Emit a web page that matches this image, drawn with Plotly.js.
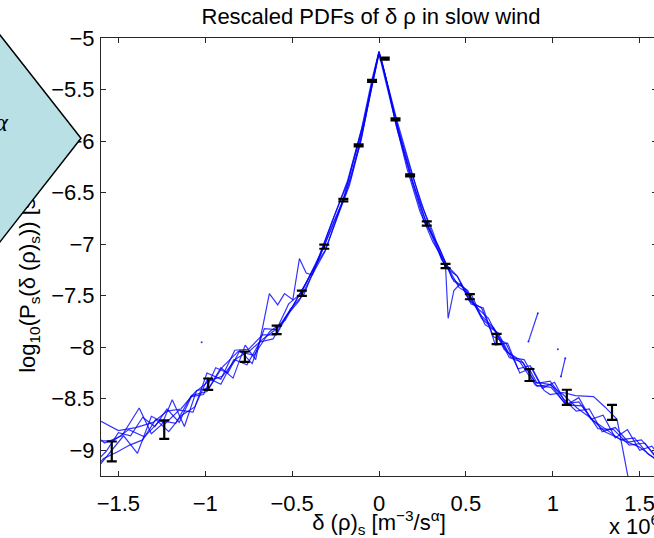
<!DOCTYPE html>
<html>
<head>
<meta charset="utf-8">
<script src="https://cdn.plot.ly/plotly-3.0.1.min.js"></script>
<style>
html,body{margin:0;padding:0;overflow:hidden;background:#fff;width:654px;height:538px;}
#chart{position:absolute;left:0;top:0;width:700px;height:538px;}
#callout{position:absolute;left:0;top:0;pointer-events:none;}
</style>
</head>
<body>
<div id="chart"></div>
<svg id="callout" width="120" height="300" xmlns="http://www.w3.org/2000/svg">
  <polygon points="-40,-16 81,138.3 -40,293" fill="#b9e0e4" stroke="#000" stroke-width="1.5"/>
  <text x="8" y="131" text-anchor="end" font-family="Liberation Serif, DejaVu Serif, serif" font-style="italic" font-size="26" fill="#000">α</text>
</svg>
<script>
// ---- data ----
const titleText = 'Rescaled PDFs of δ ρ in slow wind';
const xTickVals = [-1.5, -1, -0.5, 0, 0.5, 1, 1.5];
const yTickVals = [-9, -8.5, -8, -7.5, -7, -6.5, -6, -5.5, -5];

const x1 = [-1.60,-1.50,-1.40,-1.30,-1.22,-1.14,-1.06,-0.98,-0.90,-0.82,-0.74,-0.66,-0.58,-0.50,-0.42,-0.34,-0.26,-0.18,-0.10,-0.04,0.00,0.04,0.10,0.18,0.26,0.34,0.42,0.50,0.58,0.66,0.74,0.82,0.90,0.98,1.06,1.14,1.22,1.30,1.40,1.50,1.60,1.66];
const y1 = [-8.72,-8.81,-8.78,-8.73,-8.62,-8.60,-8.44,-8.33,-8.28,-8.11,-8.03,-7.91,-7.81,-7.61,-7.38,-7.10,-6.74,-6.38,-5.88,-5.40,-5.13,-5.39,-5.86,-6.34,-6.78,-7.01,-7.33,-7.44,-7.68,-7.81,-8.05,-8.13,-8.34,-8.36,-8.46,-8.59,-8.69,-8.82,-8.90,-8.97,-9.10,-9.14];

const x2 = [-1.64,-1.57,-1.50,-1.43,-1.36,-1.29,-1.22,-1.15,-1.08,-1.01,-0.94,-0.87,-0.80,-0.73,-0.66,-0.59,-0.52,-0.45,-0.38,-0.31,-0.24,-0.17,-0.10,-0.05,0.00,0.05,0.10,0.17,0.24,0.31,0.38,0.45,0.52,0.59,0.66,0.73,0.80,0.87,0.94,1.01,1.08,1.15,1.22,1.29,1.36,1.43,1.50,1.57,1.64];
const y2 = [-9.13,-9.01,-8.83,-8.86,-8.68,-8.77,-8.60,-8.73,-8.48,-8.46,-8.20,-8.25,-8.03,-8.16,-7.82,-7.83,-7.58,-7.48,-7.25,-7.06,-6.74,-6.43,-5.97,-5.54,-5.15,-5.45,-5.78,-6.20,-6.60,-6.88,-7.22,-7.31,-7.55,-7.62,-7.90,-7.96,-8.21,-8.18,-8.40,-8.34,-8.56,-8.49,-8.70,-8.66,-8.88,-8.80,-9.00,-8.96,-9.10];

const x3 = [-1.63,-1.55,-1.47,-1.39,-1.31,-1.23,-1.15,-1.07,-0.99,-0.91,-0.83,-0.75,-0.67,-0.59,-0.51,-0.43,-0.35,-0.27,-0.19,-0.11,-0.06,-0.02,0.00,0.02,0.06,0.11,0.19,0.27,0.35,0.43,0.51,0.59,0.67,0.75,0.83,0.91,0.99,1.07,1.15,1.23,1.31,1.39,1.47,1.55,1.63];
const y3 = [-9.19,-9.02,-8.86,-9.03,-8.67,-8.74,-8.61,-8.63,-8.25,-8.31,-8.03,-8.02,-7.88,-7.88,-7.63,-7.48,-7.15,-6.84,-6.50,-6.04,-5.60,-5.28,-5.14,-5.25,-5.54,-5.90,-6.37,-6.79,-7.05,-7.36,-7.45,-7.72,-7.84,-8.10,-8.15,-8.38,-8.36,-8.55,-8.53,-8.71,-8.80,-8.90,-8.88,-9.04,-9.12];

const x4 = [-1.65,-1.58,-1.48,-1.38,-1.31,-1.25,-1.19,-1.12,-1.05,-0.98,-0.91,-0.84,-0.77,-0.71,-0.669,-0.631,-0.583,-0.544,-0.496,-0.458,-0.419,-0.384,-0.33,-0.27,-0.21,-0.15,-0.09,-0.04,0.00,0.03,0.08,0.14,0.20,0.26,0.32,0.383,0.398,0.431,0.47,0.53,0.60,0.67,0.74,0.81,0.88,0.95,0.985,1.06,1.13,1.235,1.30,1.37,1.44];
const y4 = [-8.83,-8.93,-8.86,-8.59,-8.84,-8.75,-8.51,-8.77,-8.42,-8.40,-8.20,-8.30,-7.98,-8.12,-7.80,-7.48,-7.59,-7.48,-7.54,-7.14,-7.28,-7.30,-7.08,-6.82,-6.59,-6.22,-5.85,-5.44,-5.14,-5.33,-5.68,-6.08,-6.43,-6.73,-6.99,-7.22,-7.72,-7.45,-7.38,-7.58,-7.62,-7.98,-7.96,-8.25,-8.20,-8.42,-8.46,-8.44,-8.47,-8.48,-8.58,-8.70,-9.32];

const x5 = [-1.62,-1.53,-1.44,-1.35,-1.26,-1.17,-1.08,-0.99,-0.90,-0.81,-0.72,-0.63,-0.54,-0.45,-0.36,-0.27,-0.18,-0.09,-0.03,0.00,0.03,0.09,0.18,0.27,0.36,0.45,0.54,0.63,0.72,0.81,0.90,0.99,1.08,1.17,1.26,1.35,1.44,1.53,1.62];
const y5 = [-8.91,-8.91,-8.80,-8.87,-8.71,-8.74,-8.47,-8.43,-8.19,-8.04,-8.08,-7.85,-7.74,-7.47,-7.19,-6.78,-6.40,-5.82,-5.35,-5.13,-5.32,-5.76,-6.27,-6.73,-7.15,-7.31,-7.58,-7.72,-8.02,-8.14,-8.37,-8.39,-8.56,-8.57,-8.79,-8.80,-8.95,-8.93,-9.13];

const x6 = [-1.66,-1.585,-1.51,-1.435,-1.36,-1.285,-1.21,-1.135,-1.06,-0.985,-0.91,-0.835,-0.76,-0.685,-0.61,-0.535,-0.46,-0.385,-0.31,-0.235,-0.16,-0.085,-0.03,0.00,0.035,0.085,0.16,0.235,0.31,0.385,0.46,0.535,0.61,0.685,0.76,0.835,0.91,0.985,1.06,1.135,1.21,1.285,1.36,1.435,1.51,1.585,1.66];
const y6 = [-9.22,-9.08,-9.02,-8.95,-8.90,-8.70,-8.82,-8.66,-8.58,-8.30,-8.36,-8.12,-8.17,-7.95,-7.92,-7.70,-7.55,-7.30,-7.07,-6.72,-6.35,-5.83,-5.37,-5.15,-5.40,-5.75,-6.26,-6.68,-6.98,-7.19,-7.42,-7.50,-7.78,-7.86,-8.10,-8.12,-8.35,-8.33,-8.50,-8.62,-8.60,-8.82,-8.78,-8.92,-8.90,-9.04,-9.00];

// sparse series (gaps where the PDF is empty)
const x7 = [-1.021,-1.0,0.86,0.914,0.95,1.029,1.038,1.047,1.072];
const y7 = [-7.952,null,-7.946,-7.671,null,-8.019,null,-8.285,-8.107];

// mean values with error bars
const ex = [-1.538,-1.236,-0.983,-0.772,-0.589,-0.444,-0.315,-0.205,-0.117,-0.040,0.033,0.095,0.179,0.275,0.383,0.523,0.677,0.866,1.081,1.341];
const ey = [-9.012,-8.800,-8.359,-8.092,-7.832,-7.477,-7.025,-6.573,-6.043,-5.417,-5.200,-5.790,-6.333,-6.800,-7.212,-7.510,-7.920,-8.270,-8.486,-8.632];
const eerr = [0.097,0.090,0.055,0.050,0.042,0.025,0.020,0.012,0.010,0.010,0.010,0.010,0.010,0.020,0.020,0.025,0.050,0.058,0.073,0.073];

const lineSets = [[x1,y1],[x2,y2],[x3,y3],[x4,y4],[x5,y5],[x6,y6]];
const blue = 'rgba(0,0,255,0.8)';
const traces = lineSets.map(([xs,ys]) => ({
  type:'scatter', mode:'lines', x:xs, y:ys,
  line:{color:blue, width:1.2}, hoverinfo:'skip', showlegend:false
}));
traces.push({type:'scatter', mode:'lines+markers', x:x7, y:y7, connectgaps:false,
  line:{color:blue, width:1.2}, marker:{color:blue, size:2}, hoverinfo:'skip', showlegend:false});
traces.push({type:'scatter', mode:'markers', x:ex, y:ey,
  marker:{size:1, color:'rgba(0,0,0,0)'},
  error_y:{type:'data', array:eerr, visible:true, color:'#000', thickness:2.2, width:5},
  showlegend:false});

const font = 'Liberation Sans, Arial, Helvetica, sans-serif';
const axisCommon = {
  showgrid:false, zeroline:false, showline:true, linecolor:'#262626', linewidth:1,
  mirror:'ticks', ticks:'inside', ticklen:5, tickcolor:'#262626', tickwidth:1,
  tickfont:{family:font, size:22, color:'#000'}
};
const layout = {
  width:700, height:538,
  margin:{l:101, r:43, t:38, b:62},
  paper_bgcolor:'#fff', plot_bgcolor:'#fff',
  showlegend:false,
  title:{text:titleText, font:{family:font, size:22, color:'#000'}, x:(371-101)/556, xref:'paper', xanchor:'center', y:1-16/538, yref:'container', yanchor:'middle'},
  xaxis:Object.assign({}, axisCommon, {
    range:[-1.6,1.6], tickvals:xTickVals, ticklabelstandoff:8,
    title:{text:'δ (ρ)<sub>s</sub> [m<sup>−3</sup>/s<sup>α</sup>]', font:{family:font, size:22, color:'#000'}, standoff:7}
  }),
  yaxis:Object.assign({}, axisCommon, {
    range:[-9.25,-5], tickvals:yTickVals, ticklabelstandoff:1,
    title:{text:'log<sub>10</sub>(P<sub>s</sub>(δ (ρ)<sub>s</sub>)) [s<sup>α</sup>/m<sup>−3</sup>]', font:{family:font, size:22, color:'#000'}, standoff:9}
  }),
  annotations:[{
    text:'x 10<sup>6</sup>', xref:'paper', yref:'paper', x:(607-101)/556, y:-(525-476)/438,
    xanchor:'left', yanchor:'middle', showarrow:false, font:{family:font, size:22, color:'#000'}
  }]
};
Plotly.newPlot('chart', traces, layout, {staticPlot:true, displayModeBar:false});
</script>
</body>
</html>
